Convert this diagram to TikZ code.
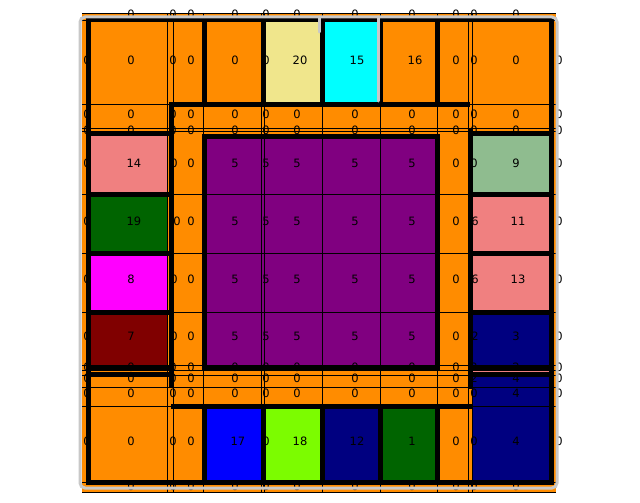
\documentclass[tikz,border=0pt]{standalone}
\usepackage{fontspec}
\setmainfont{DejaVu Sans}
\definecolor{dorange}{HTML}{FF8C00}
\definecolor{khakic}{HTML}{F0E68C}
\definecolor{cyanc}{HTML}{00FFFF}
\definecolor{salmonc}{HTML}{F08080}
\definecolor{dgreen}{HTML}{006400}
\definecolor{magc}{HTML}{FF00FF}
\definecolor{maroonc}{HTML}{800000}
\definecolor{purplec}{HTML}{800080}
\definecolor{seagreenc}{HTML}{8FBC8F}
\definecolor{navyc}{HTML}{000080}
\definecolor{bluec}{HTML}{0000FF}
\definecolor{lawnc}{HTML}{7CFC00}
\definecolor{grayc}{HTML}{C8C8C8}
\begin{document}
\begin{tikzpicture}[x=1pt,y=-1pt,
  thickline/.style={line width=5pt,black},
  thinline/.style={line width=0.8pt,black},
  lab/.style={font=\fontsize{11.5}{12}\selectfont,inner sep=0pt,text=black},
  grayline/.style={line width=3pt,grayc,line cap=round}]
\useasboundingbox (0,0) rectangle (640,503);
\fill[white] (0,0) rectangle (640,503);
% background
\fill[dorange] (82,13) rectangle (556,492);
% coloured cells
\fill[khakic] (265,20) rectangle (322,104);
\fill[cyanc] (322,20) rectangle (380,104);
\fill[salmonc] (88,133) rectangle (167,194);
\fill[dgreen] (88,194) rectangle (167,253);
\fill[magc] (88,253) rectangle (167,312);
\fill[maroonc] (88,312) rectangle (167,367);
\fill[purplec] (204,136) rectangle (437,367);
\fill[seagreenc] (472,133) rectangle (551,194);
\fill[salmonc] (472,194) rectangle (551,253);
\fill[salmonc] (472,253) rectangle (551,312);
\fill[navyc] (472,312) rectangle (551,367);
\fill[salmonc] (472,367) rectangle (551,372);
\fill[navyc] (472,372) rectangle (551,482);
\fill[bluec] (204,406) rectangle (263,482);
\fill[lawnc] (263,406) rectangle (322,482);
\fill[navyc] (322,406) rectangle (380,482);
\fill[dgreen] (380,406) rectangle (437,482);
% labels
\foreach \x/\v [count=\i] in {131/0,173/0,191/0,235/0,266/0,297/0,355/0,412/0,456/0,474/0,516/0}
  \node[lab] (ra\i) at (\x,14) {\v};
\foreach \x/\v [count=\i] in {87/0,131/0,173/0,191/0,235/0,266/0,300/20,357/15,415/16,456/0,474/0,516/0,559/0}
  \node[lab] (rb\i) at (\x,60) {\v};
\foreach \x/\v [count=\i] in {87/0,131/0,173/0,191/0,235/0,266/0,297/0,355/0,412/0,456/0,474/0,516/0,559/0}
  \node[lab] (rc\i) at (\x,114) {\v};
\foreach \x/\v [count=\i] in {87/0,131/0,173/0,191/0,235/0,266/0,297/0,355/0,412/0,456/0,474/0,516/0,559/0}
  \node[lab] (rd\i) at (\x,130) {\v};
\foreach \x/\v [count=\i] in {87/0,134/14,174/0,191/0,235/5,266/5,297/5,355/5,412/5,456/0,474/0,516/9,559/0}
  \node[lab] (re\i) at (\x,163) {\v};
\foreach \x/\v [count=\i] in {87/0,134/19,177/0,191/0,235/5,266/5,297/5,355/5,412/5,456/0,475/6,518/11,559/0}
  \node[lab] (rf\i) at (\x,221) {\v};
\foreach \x/\v [count=\i] in {87/0,131/8,174/0,191/0,235/5,266/5,297/5,355/5,412/5,456/0,475/6,518/13,559/0}
  \node[lab] (rg\i) at (\x,279) {\v};
\foreach \x/\v [count=\i] in {87/0,131/7,174/0,191/0,235/5,266/5,297/5,355/5,412/5,456/0,475/2,516/3,559/0}
  \node[lab] (rh\i) at (\x,336) {\v};
\foreach \x/\v [count=\i] in {87/0,131/0,173/0,191/0,235/0,266/0,297/0,355/0,412/0,456/0,474/2,516/2,559/0}
  \node[lab] (ri\i) at (\x,367) {\v};
\foreach \x/\v [count=\i] in {87/0,131/0,173/0,191/0,235/0,266/0,297/0,355/0,412/0,456/0,474/2,516/4,559/0}
  \node[lab] (rj\i) at (\x,378) {\v};
\foreach \x/\v [count=\i] in {87/0,131/0,173/0,191/0,235/0,266/0,297/0,355/0,412/0,456/0,474/0,516/4,559/0}
  \node[lab] (rk\i) at (\x,393) {\v};
\foreach \x/\v [count=\i] in {87/0,131/0,173/0,191/0,238/17,266/0,300/18,357/12,412/1,456/0,474/0,516/4,559/0}
  \node[lab] (rl\i) at (\x,441) {\v};
\foreach \x/\v [count=\i] in {131/0,173/0,191/0,235/0,266/0,297/0,355/0,412/0,456/0,474/0,516/0}
  \node[lab] (rm\i) at (\x,486) {\v};
% thin grid lines
\foreach \x in {167,173,203,261,264,322,380,437,468,472}
  \draw[thinline] (\x,13) -- (\x,492);
\foreach \y in {13,20,104,128,131,194,253,312,365,370,375,387,406,482,492}
  \draw[thinline] (82,\y) -- (556,\y);
% thick lines
\draw[thickline] (88,20) rectangle (551,482);
\draw[thickline] (171,104) -- (470,104);
\foreach \x in {204,263,322,380,437}
  \draw[thickline] (\x,20) -- (\x,104);
\draw[thickline] (171,102) -- (171,387);
\foreach \y in {133,194,253,312,367,374}
  \draw[thickline] (88,\y) -- (171,\y);
\draw[thickline] (204,136) rectangle (437,367);
\draw[thickline] (470,128) -- (470,389);
\foreach \y in {133,194,253,312,367,374}
  \draw[thickline] (470,\y) -- (551,\y);
\draw[thickline] (171,406) -- (472,406);
\foreach \x in {204,263,322,380,437}
  \draw[thickline] (\x,406) -- (\x,482);
% grey frame
\draw[grayline,rounded corners=5pt] (80,17) rectangle (557,488);
\draw[grayline] (319,17) -- (319,32);
\draw[grayline] (378,17) -- (378,101);
\end{tikzpicture}
\end{document}
